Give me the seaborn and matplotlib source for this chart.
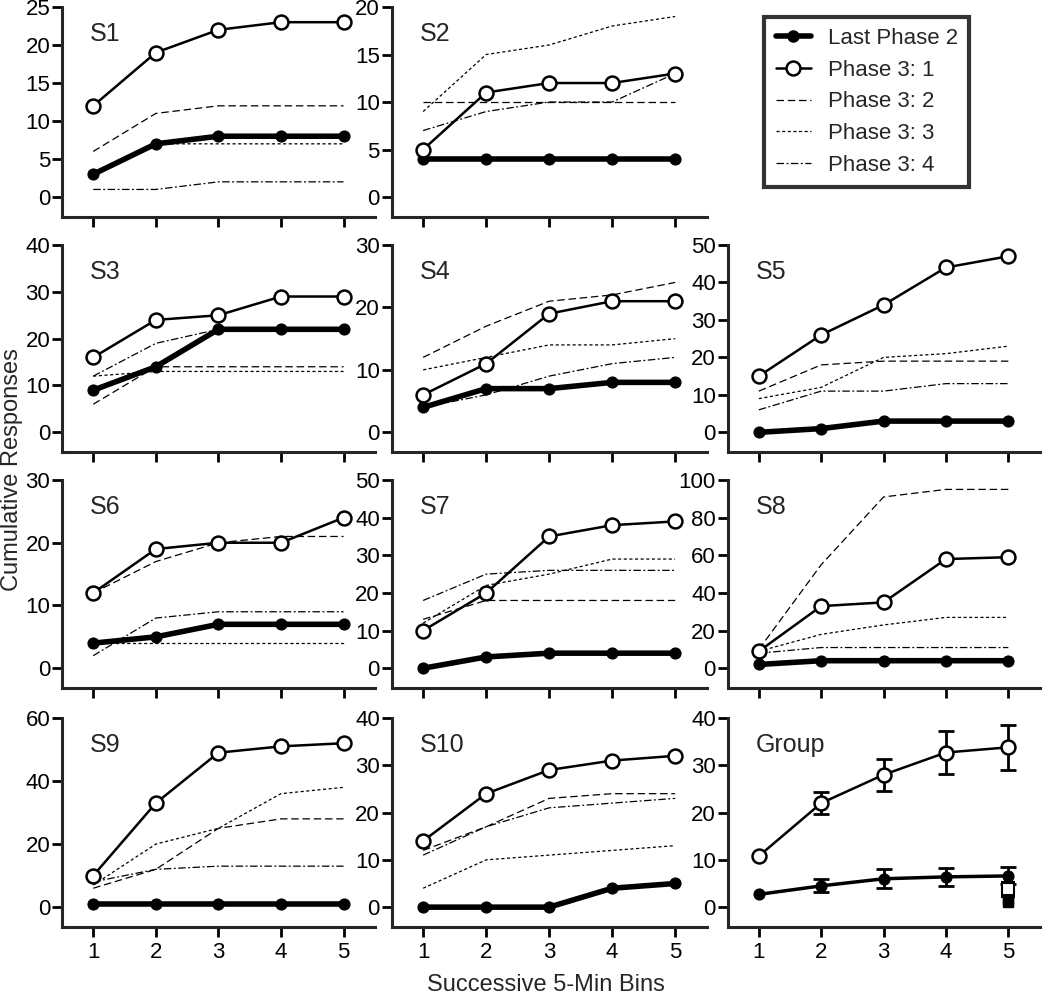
import numpy as np
import pandas as pd
import seaborn as sns
import matplotlib
matplotlib.use("Agg")
import matplotlib.pyplot as plt
from matplotlib.lines import Line2D

sns.set_style("ticks")
plt.rcParams['font.family'] = ['Liberation Sans', 'DejaVu Sans']

bins = [1, 2, 3, 4, 5]

# per-subject cumulative responses
last_p2 = {
    'S1': [3, 7, 8, 8, 8], 'S2': [4, 4, 4, 4, 4], 'S3': [9, 14, 22, 22, 22],
    'S4': [4, 7, 7, 8, 8], 'S5': [0, 1, 3, 3, 3], 'S6': [4, 5, 7, 7, 7],
    'S7': [0, 3, 4, 4, 4], 'S8': [2, 4, 4, 4, 4], 'S9': [1, 1, 1, 1, 1],
    'S10': [0, 0, 0, 4, 5],
}
p3_1 = {
    'S1': [12, 19, 22, 23, 23], 'S2': [5, 11, 12, 12, 13], 'S3': [16, 24, 25, 29, 29],
    'S4': [6, 11, 19, 21, 21], 'S5': [15, 26, 34, 44, 47], 'S6': [12, 19, 20, 20, 24],
    'S7': [10, 20, 35, 38, 39], 'S8': [9, 33, 35, 58, 59], 'S9': [10, 33, 49, 51, 52],
    'S10': [14, 24, 29, 31, 32],
}
p3_2 = {
    'S1': [6, 11, 12, 12, 12], 'S2': [10, 10, 10, 10, 10], 'S3': [6, 14, 14, 14, 14],
    'S4': [12, 17, 21, 22, 24], 'S5': [11, 18, 19, 19, 19], 'S6': [12, 17, 20, 21, 21],
    'S7': [13, 18, 18, 18, 18], 'S8': [10, 55, 91, 95, 95], 'S9': [6, 12, 25, 28, 28],
    'S10': [12, 17, 23, 24, 24],
}
p3_3 = {
    'S1': [3, 7, 7, 7, 7], 'S2': [9, 15, 16, 18, 19], 'S3': [12, 13, 13, 13, 13],
    'S4': [10, 12, 14, 14, 15], 'S5': [9, 12, 20, 21, 23], 'S6': [4, 4, 4, 4, 4],
    'S7': [12, 22, 25, 29, 29], 'S8': [9, 18, 23, 27, 27], 'S9': [7, 20, 25, 36, 38],
    'S10': [4, 10, 11, 12, 13],
}
p3_4 = {
    'S1': [1, 1, 2, 2, 2], 'S2': [7, 9, 10, 10, 13], 'S3': [12, 19, 22, 22, 22],
    'S4': [4, 6, 9, 11, 12], 'S5': [6, 11, 11, 13, 13], 'S6': [2, 8, 9, 9, 9],
    'S7': [18, 25, 26, 26, 26], 'S8': [8, 11, 11, 11, 11], 'S9': [8, 12, 13, 13, 13],
    'S10': [11, 17, 21, 22, 23],
}
y_tops = {'S1': 25, 'S2': 20, 'S3': 40, 'S4': 30, 'S5': 50, 'S6': 30,
          'S7': 50, 'S8': 100, 'S9': 60, 'S10': 40, 'Group': 40}
y_steps = {'S1': 5, 'S2': 5, 'S3': 10, 'S4': 10, 'S5': 10, 'S6': 10,
           'S7': 10, 'S8': 20, 'S9': 20, 'S10': 10, 'Group': 10}

group_p31 = [10.8, 22.0, 28.0, 32.7, 33.8]
group_p31_err = [0.0, 2.4, 3.4, 4.6, 4.7]
group_p2 = [2.7, 4.5, 6.0, 6.4, 6.6]
group_p2_err = [0.0, 1.4, 2.0, 1.9, 1.8]
group_extra_open = 3.8
group_extra_open_err = 1.6
group_extra_filled = [1.0, 1.6]

# panel positions (left, bottom, width, height) in figure fraction
cols = [(0.059, 0.298), (0.373, 0.300), (0.693, 0.297)]
rows = [(0.783, 0.210), (0.548, 0.207), (0.312, 0.208), (0.073, 0.209)]
layout = [['S1', 'S2', None], ['S3', 'S4', 'S5'], ['S6', 'S7', 'S8'], ['S9', 'S10', 'Group']]

styles = {
    'Last Phase 2': dict(lw=4.0, marker='o', ms=8, mfc='black', mec='black', ls='-'),
    'Phase 3: 1': dict(lw=1.8, marker='o', ms=10, mfc='white', mec='black', mew=1.8, ls='-'),
    'Phase 3: 2': dict(lw=0.9, ls=(0, (6, 3))),
    'Phase 3: 3': dict(lw=0.9, ls=(0, (2.5, 2))),
    'Phase 3: 4': dict(lw=0.9, ls=(0, (6, 2, 1.5, 2))),
}

fig = plt.figure(figsize=(10.5, 10), dpi=100)


def style_axes(ax, name, bottom_row):
    top = y_tops[name]
    ax.set_xlim(0.5, 5.5)
    ax.set_ylim(-0.105 * top, top)
    ax.set_yticks(np.arange(0, top + 0.1, y_steps[name]))
    ax.set_xticks(bins)
    if not bottom_row:
        ax.set_xticklabels([])
    ax.spines['left'].set_bounds(-0.105 * top, top)
    for s in ['top', 'right']:
        ax.spines[s].set_visible(False)
    for s in ['left', 'bottom']:
        ax.spines[s].set_linewidth(2.2)
    ax.tick_params(width=2, length=7, labelsize=16, colors='black', pad=1.5)
    ax.tick_params(axis='x', pad=4)
    ax.set_xlabel('')
    ax.set_ylabel('')
    ax.text(0.09, 0.87, name, transform=ax.transAxes, fontsize=18, va='center')


def err_bars(ax, xs, ys, errs):
    # only bins with a visible SEM get a bar
    keep = [i for i, e in enumerate(errs) if e > 0]
    ax.errorbar([xs[i] for i in keep], [ys[i] for i in keep], yerr=[errs[i] for i in keep],
                fmt='none', ecolor='black', elinewidth=2, capsize=6, capthick=2)


for r, row in enumerate(layout):
    for c, name in enumerate(row):
        if name is None:
            continue
        ax = fig.add_axes([cols[c][0], rows[r][0], cols[c][1], rows[r][1]])
        if name != 'Group':
            series = [('Phase 3: 2', p3_2), ('Phase 3: 3', p3_3), ('Phase 3: 4', p3_4),
                      ('Last Phase 2', last_p2), ('Phase 3: 1', p3_1)]
            for label, d in series:
                df = pd.DataFrame({'bin': bins, 'resp': d[name]})
                sns.lineplot(data=df, x='bin', y='resp', ax=ax, color='black',
                             legend=False, **styles[label])
        else:
            df = pd.DataFrame({'bin': bins, 'resp': group_p2})
            sns.lineplot(data=df, x='bin', y='resp', ax=ax, color='black', legend=False,
                         lw=2.5, marker='o', ms=8, mfc='black', mec='black')
            err_bars(ax, bins, group_p2, group_p2_err)
            df = pd.DataFrame({'bin': bins, 'resp': group_p31})
            sns.lineplot(data=df, x='bin', y='resp', ax=ax, color='black', legend=False,
                         lw=1.8, marker='o', ms=10, mfc='white', mec='black', mew=1.8, zorder=3)
            err_bars(ax, bins, group_p31, group_p31_err)
            ax.errorbar([5], [group_extra_open], yerr=[group_extra_open_err], fmt='s',
                        mfc='white', mec='black', mew=1.5, ms=8, ecolor='black',
                        elinewidth=1.5, capsize=5, zorder=4)
            ax.plot([5] * len(group_extra_filled), group_extra_filled, 's', color='black',
                    ms=7, zorder=4)
        style_axes(ax, name, r == len(layout) - 1)

# legend in the empty top-right slot
handles = [Line2D([], [], color='black', **styles[k]) for k in styles]
labels = list(styles.keys())
leg = fig.legend(handles, labels, loc='upper left', bbox_to_anchor=(0.728, 0.983),
                 frameon=True, fancybox=False, fontsize=16, handlelength=1.6,
                 borderpad=0.5, labelspacing=0.48, handletextpad=0.75, borderaxespad=0)
leg.get_frame().set_edgecolor('black')
leg.get_frame().set_linewidth(3)

fig.text(0.011, 0.53, 'Cumulative Responses', rotation=90, va='center', ha='center', fontsize=17)
fig.text(0.52, 0.004, 'Successive 5-Min Bins', ha='center', va='bottom', fontsize=17)

fig.savefig('out.png', dpi=100)
